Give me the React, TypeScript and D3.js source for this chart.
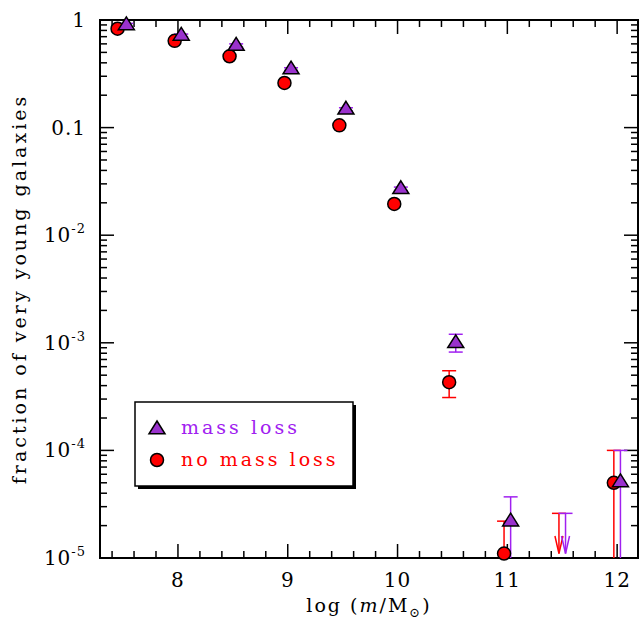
import React from "react";
import * as d3 from "d3";

// no mass loss (red circles)
const redX = [7.45, 7.97, 8.47, 8.97, 9.47, 9.97, 10.47, 10.97, 11.97];
const redY = [0.83, 0.64, 0.46, 0.26, 0.105, 0.0195, 4.3e-4, 1.1e-5, 5e-5];
const redLo = [null, null, null, null, null, null, 3.1e-4, 1e-6, 1e-6];
const redHi = [null, null, null, null, null, null, 5.5e-4, 2.2e-5, 1e-4];
// mass loss (purple triangles)
const purX = [7.53, 8.03, 8.53, 9.03, 9.53, 10.03, 10.53, 11.03, 12.03];
const purY = [0.9, 0.72, 0.58, 0.35, 0.148, 0.027, 1.0e-3, 2.2e-5, 5.1e-5];
const purLo = [0.87, 0.7, 0.56, 0.34, 0.143, 0.026, 8.2e-4, 1e-6, 1e-6];
const purHi = [0.93, 0.74, 0.6, 0.36, 0.153, 0.028, 1.2e-3, 3.7e-5, 1e-4];
// upper limits
const limX = [11.47, 11.53];
const limY = [2.6e-5, 2.6e-5];
const limColor = ["#ff0000", "#a020f0"];

const xTicks = [8, 9, 10, 11, 12];
const yTicks = [1, 0.1, 1e-2, 1e-3, 1e-4, 1e-5];
const yLabels = ["1", "0.1", "-2", "-3", "-4", "-5"];

const RED = "#ff0000";
const PUR = "#a020f0";
const FILLP = "#9a32cd";

export default function App() {
  const L = 100, R = 638, T = 20, B = 558;
  const x = d3.scaleLinear().domain([7.29, 12.19]).range([L, R]);
  const y = d3.scaleLog().domain([1e-5, 1]).range([B, T]).clamp(true);
  const font = "'DejaVu Serif', serif";
  const minorX = d3.range(7.4, 12.19, 0.2).filter((v) => Math.abs(v - Math.round(v)) > 0.01);
  const minorY: number[] = [];
  for (let e = -5; e < 0; e++) for (let k = 2; k < 10; k++) minorY.push(k * Math.pow(10, e));
  const tri = (cx: number, cy: number, s = 8) =>
    `M${cx},${cy - s} L${cx + s},${cy + s * 0.6} L${cx - s},${cy + s * 0.6} Z`;
  const bar = (xs: number[], lo: (number | null)[], hi: (number | null)[], c: string) =>
    xs.map((v, i) =>
      lo[i] == null ? null : (
        <g key={i} stroke={c} strokeWidth={1.5}>
          <line x1={x(v)} x2={x(v)} y1={y(lo[i]!)} y2={y(hi[i]!)} />
          <line x1={x(v) - 7} x2={x(v) + 7} y1={y(hi[i]!)} y2={y(hi[i]!)} />
          {lo[i]! > 1e-5 && <line x1={x(v) - 7} x2={x(v) + 7} y1={y(lo[i]!)} y2={y(lo[i]!)} />}
        </g>
      )
    );
  return (
    <svg width={640} height={623} style={{ position: "absolute", left: 0, top: 0 }} fontFamily={font}>
      <rect width={640} height={623} fill="white" />
      {/* ticks */}
      <g stroke="black" strokeWidth={1.5}>
        {xTicks.map((t) => (
          <g key={t}>
            <line x1={x(t)} x2={x(t)} y1={B} y2={B - 14} />
            <line x1={x(t)} x2={x(t)} y1={T} y2={T + 14} />
          </g>
        ))}
        {minorX.map((t, i) => (
          <g key={i}>
            <line x1={x(t)} x2={x(t)} y1={B} y2={B - 7} />
            <line x1={x(t)} x2={x(t)} y1={T} y2={T + 7} />
          </g>
        ))}
        {yTicks.map((t) => (
          <g key={t}>
            <line x1={L} x2={L + 14} y1={y(t)} y2={y(t)} />
            <line x1={R} x2={R - 14} y1={y(t)} y2={y(t)} />
          </g>
        ))}
        {minorY.map((t, i) => (
          <g key={i}>
            <line x1={L} x2={L + 7} y1={y(t)} y2={y(t)} />
            <line x1={R} x2={R - 7} y1={y(t)} y2={y(t)} />
          </g>
        ))}
      </g>
      <rect x={L} y={T} width={R - L} height={B - T} fill="none" stroke="black" strokeWidth={2} />
      {xTicks.map((t) => (
        <text key={t} x={x(t)} y={B + 29} textAnchor="middle" fontSize={20} letterSpacing={1}>{t}</text>
      ))}
      {yTicks.map((t, i) => (
        <text key={t} x={L - 14} y={y(t) + 7} textAnchor="end" fontSize={20} letterSpacing={1}>
          {i < 2 ? yLabels[i] : (<><tspan>10</tspan><tspan dy={-9} fontSize={13}>{yLabels[i]}</tspan></>)}
        </text>
      ))}
      <text x={369} y={612} textAnchor="middle" fontSize={19} letterSpacing={2}>
        log (<tspan fontStyle="italic">m</tspan>/M<tspan dy={5} fontSize={13}>⊙</tspan><tspan dy={-5}>)</tspan>
      </text>
      <text transform={`translate(26,${(T + B) / 2}) rotate(-90)`} textAnchor="middle" fontSize={19} letterSpacing={3}>
        fraction of very young galaxies
      </text>
      {/* error bars */}
      {bar(redX, redLo, redHi, RED)}
      {bar(purX, purLo, purHi, PUR)}
      {limX.map((v, i) => (
        <g key={i} stroke={limColor[i]} strokeWidth={1.5} fill="none">
          <line x1={x(v) - 7} x2={x(v) + 7} y1={y(limY[i])} y2={y(limY[i])} />
          <line x1={x(v)} x2={x(v)} y1={y(limY[i])} y2={y(1.1e-5)} />
          <path d={`M${x(v) - 4},${y(1.6e-5)} L${x(v)},${y(1.1e-5)} L${x(v) + 4},${y(1.6e-5)}`} />
        </g>
      ))}
      {/* points */}
      {redX.map((v, i) => (
        <circle key={i} cx={x(v)} cy={y(redY[i])} r={6.5} fill={RED} stroke="black" strokeWidth={1.5} />
      ))}
      {purX.map((v, i) => (
        <path key={i} d={tri(x(v), y(purY[i]))} fill={FILLP} stroke="black" strokeWidth={1.5} />
      ))}
      {/* legend */}
      <rect x={138} y={405} width={218} height={84} fill="black" />
      <rect x={135} y={402} width={218} height={84} fill="white" stroke="black" strokeWidth={1.5} />
      <path d={tri(157, 429)} fill={FILLP} stroke="black" strokeWidth={1.5} />
      <text x={181} y={434} fontSize={19} fill={PUR} letterSpacing={3}>mass loss</text>
      <circle cx={157} cy={460} r={6.5} fill={RED} stroke="black" strokeWidth={1.5} />
      <text x={181} y={466} fontSize={19} fill={RED} letterSpacing={3}>no mass loss</text>
    </svg>
  );
}
